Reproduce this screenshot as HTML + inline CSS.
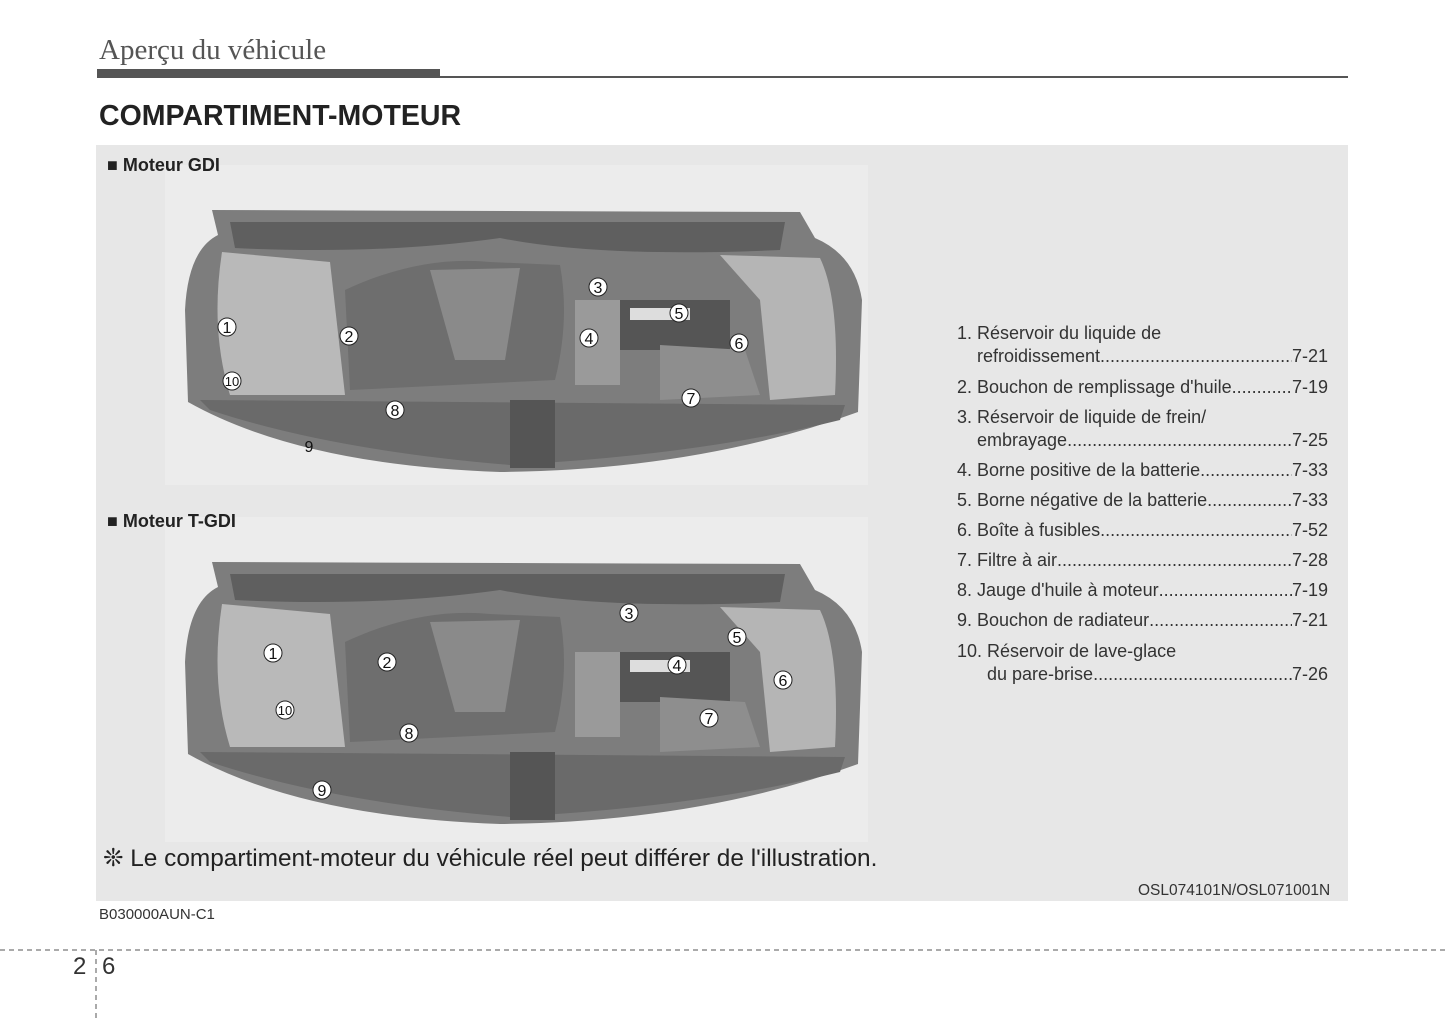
<!DOCTYPE html>
<html><head><meta charset="utf-8"><style>
body{margin:0;width:1445px;height:1019px;background:#fff;position:relative;overflow:hidden;font-family:"Liberation Sans",sans-serif;color:#222}
.a{position:absolute}
.list{position:absolute;left:957px;width:371px;font-size:18px;color:#333}
.row{display:flex;align-items:baseline;height:23px;white-space:nowrap}
.row .f{flex:1;overflow:hidden;white-space:nowrap}
.row .f:after{content:"....................................................................................................................."}
</style></head><body>
<div class="a" style="left:99px;top:34px;font-family:'Liberation Serif',serif;font-size:29px;color:#555">Aperçu du véhicule</div>
<div class="a" style="left:97px;top:69px;width:343px;height:9px;background:#555"></div>
<div class="a" style="left:440px;top:76px;width:908px;height:2px;background:#555"></div>
<div class="a" style="left:99px;top:100px;font-size:28.5px;font-weight:bold;color:#222">COMPARTIMENT-MOTEUR</div>
<div class="a" style="left:96px;top:145px;width:1252px;height:756px;background:#e7e7e7"></div>
<div class="a" style="left:165px;top:165px;width:703px;height:320px;background:#ececec"></div>
<div class="a" style="left:165px;top:517px;width:703px;height:325px;background:#ececec"></div>
<div class="a" style="left:107px;top:155px;font-size:18px;font-weight:bold">■ Moteur GDI</div>
<div class="a" style="left:107px;top:511px;font-size:18px;font-weight:bold">■ Moteur T-GDI</div>
<svg class="a" style="left:0;top:0" width="1445" height="1019">
<defs>
<g id="eng">
<path d="M185,310 Q188,250 218,235 L212,210 L800,212 L815,238 Q855,255 862,300 L858,412 Q700,470 500,472 Q300,465 188,402 Z" fill="#7d7d7d"/>
<path d="M230,222 L785,222 L780,250 Q600,258 500,238 Q380,255 235,248 Z" fill="#5f5f5f"/>
<path d="M222,252 L330,262 L345,395 L230,395 Q210,330 222,252 Z" fill="#b9b9b9"/>
<path d="M720,255 L820,258 Q840,300 835,395 L770,400 L760,300 Z" fill="#b5b5b5"/>
<path d="M345,290 Q420,255 490,262 L560,265 Q570,320 555,380 L350,390 Z" fill="#6e6e6e"/>
<path d="M430,270 L520,268 L505,360 L455,360 Z" fill="#8a8a8a"/>
<rect x="575" y="300" width="45" height="85" fill="#9a9a9a"/>
<rect x="620" y="300" width="110" height="50" fill="#555"/>
<rect x="630" y="308" width="60" height="12" fill="#ddd"/>
<path d="M660,345 L745,350 L760,395 L660,400 Z" fill="#8e8e8e"/>
<path d="M200,400 L845,405 L840,420 Q700,455 510,465 Q330,450 210,410 Z" fill="#6a6a6a"/>
<rect x="510" y="400" width="45" height="68" fill="#555"/>
</g>
</defs>
<use href="#eng"/>
<use href="#eng" transform="translate(0,352)"/>
<g font-size="16" text-anchor="middle" fill="#111" font-family="Liberation Sans">
<g transform="translate(227,327)"><circle r="9" fill="#fff" stroke="#222"/><text y="6">1</text></g>
<g transform="translate(349,336)"><circle r="9" fill="#fff" stroke="#222"/><text y="6">2</text></g>
<g transform="translate(598,287)"><circle r="9" fill="#fff" stroke="#222"/><text y="6">3</text></g>
<g transform="translate(589,338)"><circle r="9" fill="#fff" stroke="#222"/><text y="6">4</text></g>
<g transform="translate(679,313)"><circle r="9" fill="#fff" stroke="#222"/><text y="6">5</text></g>
<g transform="translate(739,343)"><circle r="9" fill="#fff" stroke="#222"/><text y="6">6</text></g>
<g transform="translate(691,398)"><circle r="9" fill="#fff" stroke="#222"/><text y="6">7</text></g>
<g transform="translate(395,410)"><circle r="9" fill="#fff" stroke="#222"/><text y="6">8</text></g>
<g transform="translate(309,446)"><text y="6">9</text></g>
<g transform="translate(232,381)"><circle r="9" fill="#fff" stroke="#222"/><text y="5" font-size="13">10</text></g>
<g transform="translate(273,653)"><circle r="9" fill="#fff" stroke="#222"/><text y="6">1</text></g>
<g transform="translate(387,662)"><circle r="9" fill="#fff" stroke="#222"/><text y="6">2</text></g>
<g transform="translate(629,613)"><circle r="9" fill="#fff" stroke="#222"/><text y="6">3</text></g>
<g transform="translate(677,665)"><circle r="9" fill="#fff" stroke="#222"/><text y="6">4</text></g>
<g transform="translate(737,637)"><circle r="9" fill="#fff" stroke="#222"/><text y="6">5</text></g>
<g transform="translate(783,680)"><circle r="9" fill="#fff" stroke="#222"/><text y="6">6</text></g>
<g transform="translate(709,718)"><circle r="9" fill="#fff" stroke="#222"/><text y="6">7</text></g>
<g transform="translate(409,733)"><circle r="9" fill="#fff" stroke="#222"/><text y="6">8</text></g>
<g transform="translate(322,790)"><circle r="9" fill="#fff" stroke="#222"/><text y="6">9</text></g>
<g transform="translate(285,710)"><circle r="9" fill="#fff" stroke="#222"/><text y="5" font-size="13">10</text></g>
</g>
<line x1="0" y1="950" x2="1445" y2="950" stroke="#555" stroke-dasharray="5,4"/>
<line x1="96" y1="950" x2="96" y2="1019" stroke="#555" stroke-dasharray="5,4"/>
</svg>
<div class="list" style="top:323px">
<div class="row"><span>1. Réservoir du liquide de</span></div>
<div class="row" style="padding-left:20px"><span>refroidissement</span><span class="f"></span><span>7-21</span></div>
<div class="row" style="margin-top:8px"><span>2. Bouchon de remplissage d'huile</span><span class="f"></span><span>7-19</span></div>
<div class="row" style="margin-top:7px"><span>3. Réservoir de liquide de frein/</span></div>
<div class="row" style="padding-left:20px"><span>embrayage</span><span class="f"></span><span>7-25</span></div>
<div class="row" style="margin-top:7px"><span>4. Borne positive de la batterie </span><span class="f"></span><span>7-33</span></div>
<div class="row" style="margin-top:7px"><span>5. Borne négative de la batterie</span><span class="f"></span><span>7-33</span></div>
<div class="row" style="margin-top:7px"><span>6. Boîte à fusibles</span><span class="f"></span><span>7-52</span></div>
<div class="row" style="margin-top:7px"><span>7. Filtre à air </span><span class="f"></span><span>7-28</span></div>
<div class="row" style="margin-top:7px"><span>8. Jauge d'huile à moteur</span><span class="f"></span><span>7-19</span></div>
<div class="row" style="margin-top:7px"><span>9. Bouchon de radiateur</span><span class="f"></span><span>7-21</span></div>
<div class="row" style="margin-top:8px"><span>10. Réservoir de lave-glace</span></div>
<div class="row" style="padding-left:30px"><span>du pare-brise </span><span class="f"></span><span>7-26</span></div>
</div>
<div class="a" style="left:103px;top:843px;font-size:24.4px;color:#222">❊ Le compartiment-moteur du véhicule réel peut différer de l'illustration.</div>
<div class="a" style="left:1138px;top:882px;font-size:15.5px;color:#333">OSL074101N/OSL071001N</div>
<div class="a" style="left:99px;top:906px;font-size:15px;color:#333">B030000AUN-C1</div>
<div class="a" style="left:73px;top:953px;font-size:24px;color:#333">2</div>
<div class="a" style="left:102px;top:953px;font-size:24px;color:#333">6</div>
</body></html>
